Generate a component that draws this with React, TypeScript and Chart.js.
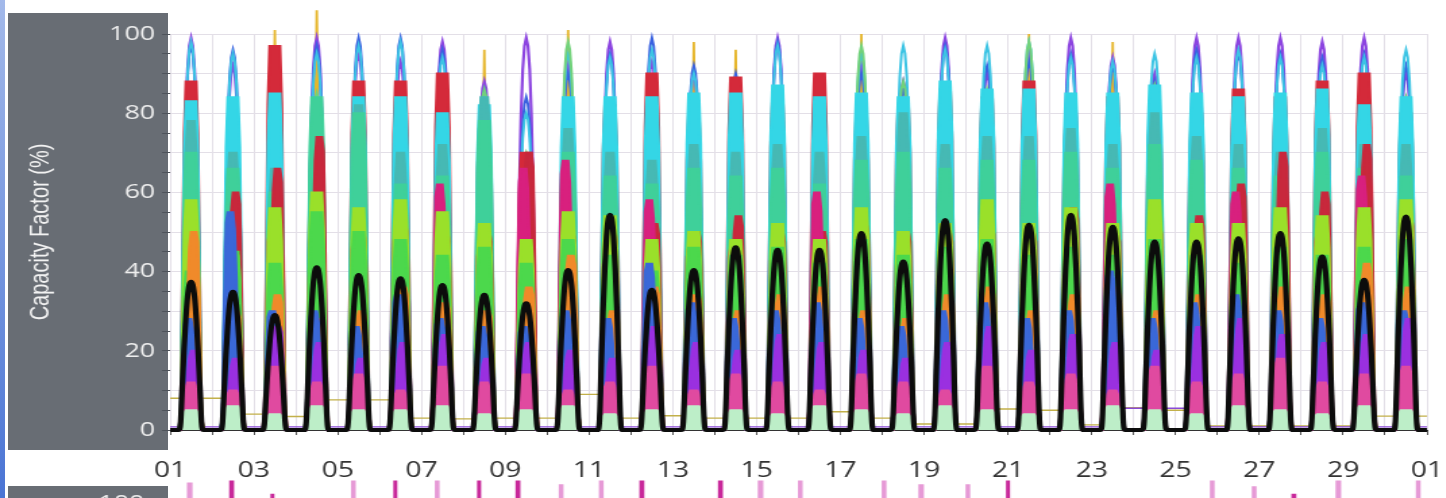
import React, { useEffect, useRef } from 'react';
import { Chart, registerables } from 'chart.js';

Chart.register(...registerables);

// ---------- layout constants (not data) ----------
const STRETCH = 1.35;
const CANVAS_W = 1071;
const MAIN_H = 485;
const SUB_H = 421;

// ---------- data ----------
const DAY_COUNT = 30;
const X_TICK_LABELS = ['01', '03', '05', '07', '09', '11', '13', '15', '17', '19', '21', '23', '25', '27', '29', '01'];
const Y_TICK_LABELS = [0, 20, 40, 60, 80, 100];
const Y_TITLE = 'Capacity Factor (%)';

// hourly day shapes (fraction of daily peak), 24 values each
const BELL_PROFILE = [0, 0, 0, 0, 0, 0, 0.05, 0.3, 0.55, 0.75, 0.9, 0.98, 1, 0.98, 0.9, 0.75, 0.55, 0.3, 0.05, 0, 0, 0, 0, 0];
const FLAT_PROFILE = [0, 0, 0, 0, 0, 0, 0.06, 0.45, 0.85, 1, 1, 1, 1, 1, 1, 1, 0.85, 0.45, 0.06, 0, 0, 0, 0, 0];
const NARROW_PROFILE = [0, 0, 0, 0, 0, 0, 0, 0.1, 0.5, 0.9, 1, 1, 1, 1, 1, 0.9, 0.5, 0.1, 0, 0, 0, 0, 0, 0];
const MORNING_PROFILE = [0, 0, 0, 0, 0, 0, 0.1, 0.6, 0.95, 1, 1, 1, 1, 0.92, 0.7, 0.4, 0.15, 0.03, 0, 0, 0, 0, 0, 0];
const AFTERNOON_PROFILE = [0, 0, 0, 0, 0, 0, 0, 0.03, 0.15, 0.4, 0.7, 0.92, 1, 1, 1, 1, 0.95, 0.6, 0.1, 0, 0, 0, 0, 0];
const SPIKE_PROFILE = [0, 0, 0, 0, 0, 0, 0.03, 0.3, 0.6, 0.8, 0.92, 0.98, 1, 0.98, 0.92, 0.8, 0.6, 0.3, 0.03, 0, 0, 0, 0, 0];
const NEEDLE_PROFILE = [0, 0, 0, 0, 0, 0, 0.03, 0.25, 0.45, 0.55, 0.6, 0.7, 1, 0.7, 0.6, 0.55, 0.45, 0.25, 0.03, 0, 0, 0, 0, 0];

// daily peak values per series (day 01 .. day 30)
const AVERAGE = [37.4, 34.9, 29, 41.1, 39.1, 38.3, 36.6, 34.1, 32, 40.4, 54.3, 35.4, 40.4, 46.1, 45.5, 45.5, 49.7, 42.5, 53, 47.1, 51.8, 54.3, 51.3, 47.6, 47.6, 48.4, 49.7, 43.8, 37.9, 53.9];
const PALEGREEN = [5, 6, 4, 6, 5, 5, 6, 4, 5, 6, 4, 5, 6, 5, 4, 6, 5, 4, 6, 5, 4, 5, 6, 5, 4, 6, 5, 4, 6, 5];
const PINK = [12, 10, 16, 12, 14, 10, 16, 12, 14, 10, 12, 16, 10, 14, 12, 10, 14, 12, 10, 16, 12, 14, 10, 16, 12, 14, 18, 12, 14, 16];
const VIOLET = [20, 18, 26, 22, 18, 22, 24, 18, 22, 20, 18, 26, 22, 20, 24, 22, 20, 18, 22, 26, 20, 24, 22, 20, 26, 28, 24, 22, 24, 28];
const STEELBLUE = [28, 55, 30, 30, 26, 34, 28, 26, 26, 30, 28, 42, 32, 28, 30, 32, 28, 26, 30, 32, 28, 30, 40, 28, 32, 34, 30, 28, 32, 30];
const ORANGE = [50, 30, 34, 28, 30, 36, 32, 30, 36, 44, 30, 36, 34, 30, 34, 36, 30, 28, 34, 36, 30, 34, 36, 30, 34, 30, 36, 34, 42, 36];
const GREEN = [40, 45, 42, 55, 50, 48, 44, 46, 42, 48, 44, 40, 46, 44, 46, 42, 48, 44, 46, 48, 44, 46, 44, 48, 44, 42, 46, 44, 46, 48];
const LIME = [58, 44, 56, 60, 56, 58, 55, 52, 48, 55, 54, 48, 50, 48, 52, 48, 56, 50, 52, 58, 52, 56, 52, 58, 52, 52, 56, 54, 56, 58];
const MAGENTA = [40, 42, 50, 50, 48, 50, 62, 46, 66, 68, 44, 58, 46, 46, 45, 60, 48, 44, 46, 48, 45, 46, 62, 46, 46, 60, 48, 50, 64, 46];
const CRIMSON = [45, 60, 66, 74, 50, 52, 50, 50, 70, 50, 50, 52, 50, 54, 50, 50, 52, 50, 50, 52, 50, 56, 50, 52, 54, 62, 70, 60, 72, 54];
const SEAGREEN = [70, 66, 60, 84, 80, 62, 64, 78, 55, 70, 64, 62, 66, 64, 66, 62, 68, 70, 66, 68, 68, 70, 66, 72, 68, 66, 64, 70, 66, 64];
const TEAL = [78, 70, 66, 80, 82, 70, 72, 84, 58, 76, 70, 68, 72, 70, 72, 70, 74, 80, 72, 74, 74, 76, 72, 80, 74, 72, 70, 76, 72, 72];
const CYAN = [83, 84, 85, 78, 84, 84, 80, 82, 60, 84, 84, 84, 85, 85, 87, 84, 85, 84, 88, 86, 86, 85, 85, 87, 85, 84, 85, 86, 82, 84];
const RED = [88, 70, 97, 76, 88, 88, 90, 76, 70, 72, 82, 90, 80, 89, 84, 90, 80, 82, 86, 84, 88, 80, 84, 80, 80, 86, 84, 88, 90, 80];
const GREEN_SPIKE = [85, 80, 80, 85, 80, 80, 78, 86, 70, 98, 80, 80, 84, 84, 82, 80, 97, 88, 85, 86, 98, 84, 82, 87, 84, 84, 82, 85, 82, 84];
const CYAN_SPIKE = [98, 95, 88, 95, 97, 98, 94, 84, 80, 95, 94, 96, 90, 88, 97, 84, 95, 97, 96, 97, 98, 94, 93, 95, 94, 96, 94, 92, 94, 96];
const BLUE_SPIKE = [97, 96, 88, 97, 99, 99, 96, 86, 84, 90, 95, 99, 92, 90, 98, 82, 90, 86, 97, 92, 93, 95, 92, 88, 96, 95, 95, 94, 95, 92];
const PURPLE_SPIKE = [99, 92, 90, 99, 95, 93, 98, 88, 99, 92, 98, 93, 90, 88, 99, 84, 92, 88, 99, 90, 95, 99, 94, 90, 99, 99, 99, 98, 99, 90];
const GOLD_SPIKE = [60, 55, 101, 106, 50, 45, 55, 96, 50, 101, 60, 55, 98, 96, 60, 55, 100, 60, 55, 60, 100, 55, 98, 60, 55, 60, 55, 50, 55, 45];

// night-time levels at each midnight boundary (31 values: 01 .. next 01)
const OLIVE_NIGHT = [8, 8, 4, 3.4, 7.6, 7.6, 3, 2.8, 3, 3, 9, 3, 3.6, 3, 3, 3, 4.6, 3, 1.5, 1.5, 5.3, 5, 1.3, 5.6, 5, 1, 1, 1, 1, 3.5, 3.5];
const PURPLE_NIGHT = [0.8, 0.8, 0.8, 0.8, 0.8, 0.8, 0.8, 0.8, 0.8, 0.8, 0.8, 0.8, 0.8, 0.8, 0.8, 0.8, 0.8, 0.8, 0.8, 0.8, 0.8, 0.8, 0.8, 5.5, 5.5, 0.8, 0.8, 0.8, 0.8, 0.8, 0.8];

// lower panel (partially visible) spikes: hour of month and top value
const SUB_DARK_HOURS = [35, 58.6, 129, 177, 199, 270, 315, 480, 643.5];
const SUB_DARK_TOPS = [106, 102.5, 106, 106, 106, 106, 106, 106, 102.5];
const SUB_LIGHT_HOURS = [11, 105, 153, 224, 247, 338, 361, 409, 430, 457, 597, 621, 669, 715];
const SUB_LIGHT_TOPS = [105.5, 106, 106, 105, 106, 106, 106, 106, 105, 105, 106, 104.5, 106, 106];

// ---------- helpers to build library tables ----------
type Pt = { x: number; y: number };

function dailySeries(peaks: number[], profile: number[]): Pt[] {
  const pts: Pt[] = [];
  for (let d = 0; d < peaks.length; d++) {
    for (let h = 0; h < 24; h++) pts.push({ x: d * 24 + h, y: peaks[d] * profile[h] });
  }
  pts.push({ x: DAY_COUNT * 24, y: 0 });
  return pts;
}

function nightSeries(levels: number[]): Pt[] {
  const pts: Pt[] = [];
  for (let d = 0; d < DAY_COUNT; d++) {
    for (let h = 0; h < 24; h++) pts.push({ x: d * 24 + h, y: h < 12 ? levels[d] : levels[d + 1] });
  }
  pts.push({ x: DAY_COUNT * 24, y: levels[DAY_COUNT] });
  return pts;
}

function spikeSeries(hours: number[], tops: number[]): Pt[] {
  const pts: Pt[] = [];
  hours.forEach((h, i) => {
    pts.push({ x: h - 0.5, y: 0 }, { x: h, y: tops[i] }, { x: h + 0.5, y: 0 });
  });
  return pts;
}

function lineDs(data: Pt[], color: string, width: number, fill = false, extra: any = {}) {
  return {
    data,
    borderColor: color,
    backgroundColor: color,
    borderWidth: width,
    fill: fill ? 'origin' : false,
    pointRadius: 0,
    tension: 0,
    clip: false,
    ...extra,
  };
}

const FONT_TICK = "'Open Sans', 'DejaVu Sans', sans-serif";
const FONT_TITLE = "'Liberation Sans', 'DejaVu Sans', sans-serif";

// draws the day labels under the x axis at the scale's own tick positions
const xLabelPlugin = {
  id: 'xDayLabels',
  afterDraw(chart: any) {
    const sx = chart.scales.x;
    const ctx = chart.ctx;
    ctx.save();
    ctx.fillStyle = '#333333';
    ctx.font = `21px ${FONT_TICK}`;
    ctx.textAlign = 'center';
    ctx.textBaseline = 'middle';
    X_TICK_LABELS.forEach((lab, i) => {
      ctx.fillText(lab, sx.getPixelForValue(i * 48), sx.bottom - 14);
    });
    ctx.restore();
  },
};

export default function App() {
  const mainRef = useRef<HTMLCanvasElement | null>(null);
  const subRef = useRef<HTMLCanvasElement | null>(null);

  useEffect(() => {
    if (!mainRef.current || !subRef.current) return;

    // index 0 is drawn on top in Chart.js
    const datasets = [
      lineDs(dailySeries(AVERAGE, BELL_PROFILE), '#0c0c0c', 4.2, false, { cubicInterpolationMode: 'monotone' }),
      lineDs(dailySeries(PALEGREEN, FLAT_PROFILE), '#bdeec8', 2, true),
      lineDs(dailySeries(PINK, NARROW_PROFILE), '#e04aa0', 2, true),
      lineDs(dailySeries(VIOLET, AFTERNOON_PROFILE), '#9a30e0', 2, true),
      lineDs(dailySeries(STEELBLUE, MORNING_PROFILE), '#3a68d8', 2, true),
      lineDs(dailySeries(ORANGE, AFTERNOON_PROFILE), '#f08a2a', 2, true),
      lineDs(dailySeries(GREEN, FLAT_PROFILE), '#4cd84c', 2, true),
      lineDs(dailySeries(LIME, FLAT_PROFILE), '#9ae02a', 2, true),
      lineDs(dailySeries(MAGENTA, MORNING_PROFILE), '#d8207e', 2, true),
      lineDs(dailySeries(CRIMSON, AFTERNOON_PROFILE), '#c8283c', 2, true),
      lineDs(dailySeries(SEAGREEN, FLAT_PROFILE), '#3fd09a', 2, true),
      lineDs(dailySeries(TEAL, NARROW_PROFILE), '#46b9b4', 2, true),
      lineDs(dailySeries(CYAN, FLAT_PROFILE), '#34d6e6', 2, true),
      lineDs(dailySeries(RED, FLAT_PROFILE), '#d42a3a', 2, true),
      lineDs(dailySeries(GREEN_SPIKE, SPIKE_PROFILE), '#72d27a', 2),
      lineDs(dailySeries(CYAN_SPIKE, SPIKE_PROFILE), '#3cc4e4', 2),
      lineDs(dailySeries(BLUE_SPIKE, SPIKE_PROFILE), '#3a62e0', 2),
      lineDs(dailySeries(PURPLE_SPIKE, SPIKE_PROFILE), '#8c44e0', 2.2),
      lineDs(dailySeries(GOLD_SPIKE, NEEDLE_PROFILE), '#e6b62c', 1.8),
      lineDs(nightSeries(PURPLE_NIGHT), '#8a4ad8', 1.4),
      lineDs(nightSeries(OLIVE_NIGHT), '#c2b04a', 1.4),
    ];

    const main = new Chart(mainRef.current, {
      type: 'line',
      data: { datasets: datasets as any },
      plugins: [xLabelPlugin],
      options: {
        responsive: false,
        animation: false,
        devicePixelRatio: 1,
        events: [],
        parsing: false,
        normalized: true,
        layout: { padding: { left: 0, right: 14, top: 34, bottom: 0 } },
        plugins: { legend: { display: false }, tooltip: { enabled: false } },
        scales: {
          x: {
            type: 'linear',
            min: 0,
            max: DAY_COUNT * 24,
            afterFit: (s: any) => { s.height = MAIN_H - 430; },
            grid: { color: '#e3dfe7', lineWidth: 1, tickLength: 5, tickColor: '#555555' },
            border: { color: '#333333', width: 1 },
            ticks: {
              stepSize: 24,
              autoSkip: false,
              maxRotation: 0,
              minRotation: 0,
              padding: 0,
              font: { size: 1 },
              callback: () => '',
            },
          },
          y: {
            type: 'linear',
            min: 0,
            max: 100,
            afterFit: (s: any) => { s.width = 126; },
            border: { display: false },
            grid: {
              color: (c: any) => (c.tick && c.tick.value % 10 === 0 ? '#e3dfe7' : 'rgba(0,0,0,0)'),
              tickColor: '#4e535a',
              tickLength: 6,
            },
            ticks: {
              stepSize: 5,
              autoSkip: false,
              padding: 5,
              color: '#eeeeee',
              font: { family: FONT_TICK, size: 20 },
              callback: (v: any) => (Y_TICK_LABELS.includes(Number(v)) ? String(v) : ''),
            },
            title: {
              display: true,
              text: Y_TITLE,
              color: '#f2f2f2',
              font: { family: FONT_TITLE, size: 20 },
              padding: { top: 18, bottom: 0 },
            },
          },
        },
      } as any,
    });

    const sub = new Chart(subRef.current, {
      type: 'line',
      data: {
        datasets: [
          lineDs(spikeSeries(SUB_DARK_HOURS, SUB_DARK_TOPS), '#c8289a', 3),
          lineDs(spikeSeries(SUB_LIGHT_HOURS, SUB_LIGHT_TOPS), '#e69ad6', 3.5),
        ] as any,
      },
      options: {
        responsive: false,
        animation: false,
        devicePixelRatio: 1,
        events: [],
        parsing: false,
        layout: { padding: { left: 0, right: 14, top: 25, bottom: 0 } },
        plugins: { legend: { display: false }, tooltip: { enabled: false } },
        scales: {
          x: { type: 'linear', min: 0, max: DAY_COUNT * 24, display: false },
          y: {
            type: 'linear',
            min: 0,
            max: 100,
            afterFit: (s: any) => { s.width = 126; },
            border: { display: false },
            grid: { display: false },
            ticks: {
              stepSize: 20,
              padding: 11,
              color: '#eeeeee',
              font: { family: FONT_TICK, size: 20 },
              callback: (v: any) => (Number(v) === 100 ? '100' : ''),
            },
          },
        },
      } as any,
    });

    return () => {
      main.destroy();
      sub.destroy();
    };
  }, []);

  const canvasStyle = (top: number, h: number): React.CSSProperties => ({
    position: 'absolute',
    left: 0,
    top,
    width: CANVAS_W + 'px',
    height: h + 'px',
    display: 'block',
    transform: `scaleX(${STRETCH})`,
    transformOrigin: '0 0',
  });

  return (
    <div style={{ position: 'fixed', left: 0, top: 0, width: 1446, height: 498, overflow: 'hidden', background: '#ffffff' }}>
      <div style={{ position: 'absolute', left: 0, top: 0, width: 5, height: 498, background: 'linear-gradient(#a3b9ea, #4a74d4)' }} />
      <div style={{ position: 'absolute', left: 8, top: 13, width: 160, height: 437, background: '#686d74' }} />
      <div style={{ position: 'absolute', left: 8, top: 486, width: 160, height: 20, background: '#686d74' }} />
      <canvas ref={subRef} width={CANVAS_W} height={SUB_H} style={canvasStyle(478, SUB_H)} />
      <canvas ref={mainRef} width={CANVAS_W} height={MAIN_H} style={canvasStyle(0, MAIN_H)} />
    </div>
  );
}
